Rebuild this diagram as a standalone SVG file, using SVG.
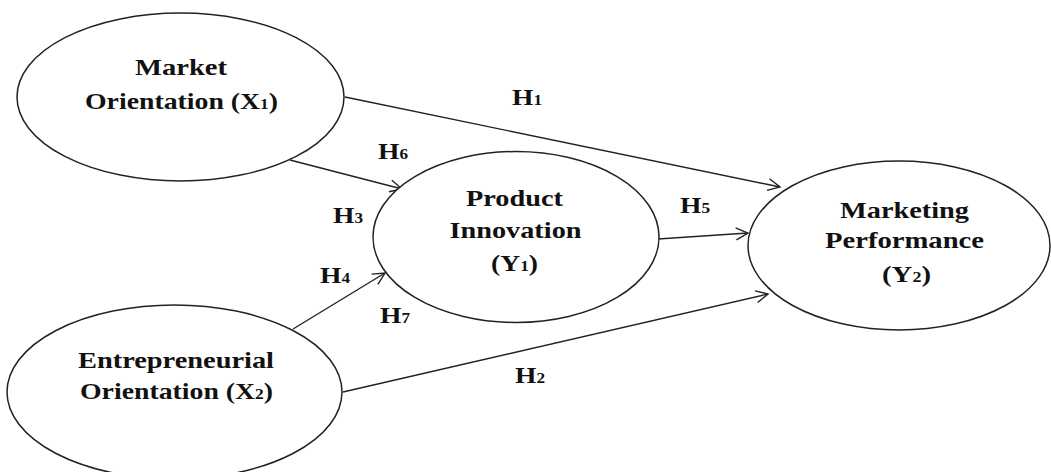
<svg xmlns="http://www.w3.org/2000/svg" width="1051" height="472" viewBox="0 0 1051 472">
  <style>
    .node { fill: #ffffff; stroke: #222222; stroke-width: 1.5; }
    .t { font-family: "Liberation Serif", "Times New Roman", serif; font-weight: bold; font-size: 24px; fill: #111111; text-anchor: middle; }
    .lbl { font-family: "Liberation Serif", "Times New Roman", serif; font-weight: bold; font-size: 24px; fill: #111111; }
    .sub { font-size: 15px; }
    .edge { fill: none; stroke: #222222; stroke-width: 1.4; }
  </style>
  <defs>
    <marker id="arrow" markerUnits="userSpaceOnUse" markerWidth="16" markerHeight="16" refX="13" refY="7" orient="auto">
      <path d="M1,1 L13,7 L1,13" fill="none" stroke="#222222" stroke-width="1.4"/>
    </marker>
  </defs>
  <rect width="1051" height="472" fill="#ffffff"/>

  <g id="connectors">
    <line class="edge" x1="345" y1="97" x2="780" y2="187" marker-end="url(#arrow)"/>
    <line class="edge" x1="290" y1="160" x2="402" y2="189" marker-end="url(#arrow)"/>
    <line class="edge" x1="293" y1="329" x2="385" y2="273" marker-end="url(#arrow)"/>
    <line class="edge" x1="658" y1="239" x2="748" y2="233" marker-end="url(#arrow)"/>
    <line class="edge" x1="343" y1="392" x2="768" y2="294" marker-end="url(#arrow)"/>
  </g>

  <g id="node-market-orientation">
    <ellipse class="node" cx="180.5" cy="97" rx="163.5" ry="84"/>
    <text class="t" x="181" y="75" textLength="92" lengthAdjust="spacingAndGlyphs">Market</text>
    <text class="t" x="181.5" y="109" textLength="193" lengthAdjust="spacingAndGlyphs">Orientation (X<tspan class="sub">1</tspan>)</text>
  </g>

  <g id="node-product-innovation">
    <ellipse class="node" cx="516" cy="237" rx="143" ry="85.5"/>
    <text class="t" x="514.5" y="206" textLength="97" lengthAdjust="spacingAndGlyphs">Product</text>
    <text class="t" x="515.5" y="238" textLength="132" lengthAdjust="spacingAndGlyphs">Innovation</text>
    <text class="t" x="514.5" y="271" textLength="47" lengthAdjust="spacingAndGlyphs">(Y<tspan class="sub">1</tspan>)</text>
  </g>

  <g id="node-marketing-performance">
    <ellipse class="node" cx="899" cy="245.5" rx="151" ry="84.5"/>
    <text class="t" x="904.5" y="218" textLength="129" lengthAdjust="spacingAndGlyphs">Marketing</text>
    <text class="t" x="904.5" y="248" textLength="159" lengthAdjust="spacingAndGlyphs">Performance</text>
    <text class="t" x="906.5" y="282" textLength="49" lengthAdjust="spacingAndGlyphs">(Y<tspan class="sub">2</tspan>)</text>
  </g>

  <g id="node-entrepreneurial-orientation">
    <ellipse class="node" cx="174.5" cy="392" rx="167.5" ry="87"/>
    <text class="t" x="176" y="368" textLength="196" lengthAdjust="spacingAndGlyphs">Entrepreneurial</text>
    <text class="t" x="176.5" y="399" textLength="193" lengthAdjust="spacingAndGlyphs">Orientation (X<tspan class="sub">2</tspan>)</text>
  </g>

  <g id="labels">
    <text class="lbl" x="512" y="105" textLength="30" lengthAdjust="spacingAndGlyphs">H<tspan class="sub">1</tspan></text>
    <text class="lbl" x="378" y="159" textLength="30" lengthAdjust="spacingAndGlyphs">H<tspan class="sub">6</tspan></text>
    <text class="lbl" x="333" y="223" textLength="30" lengthAdjust="spacingAndGlyphs">H<tspan class="sub">3</tspan></text>
    <text class="lbl" x="320" y="283" textLength="30" lengthAdjust="spacingAndGlyphs">H<tspan class="sub">4</tspan></text>
    <text class="lbl" x="380" y="323" textLength="30" lengthAdjust="spacingAndGlyphs">H<tspan class="sub">7</tspan></text>
    <text class="lbl" x="680" y="213" textLength="30" lengthAdjust="spacingAndGlyphs">H<tspan class="sub">5</tspan></text>
    <text class="lbl" x="515" y="383" textLength="30" lengthAdjust="spacingAndGlyphs">H<tspan class="sub">2</tspan></text>
  </g>
</svg>
